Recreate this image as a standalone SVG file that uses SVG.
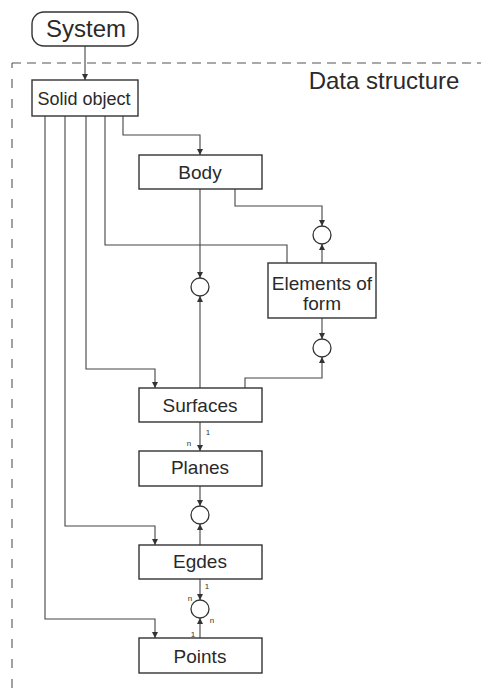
<svg xmlns="http://www.w3.org/2000/svg" width="481" height="688" viewBox="0 0 481 688">
<style>
.box{fill:#fff;stroke:#333;stroke-width:1.4}
.ln{fill:none;stroke:#444;stroke-width:1.1}
.c{fill:#fff;stroke:#333;stroke-width:1.3}
.d{fill:none;stroke:#555;stroke-width:1.1}
.t{font-family:"Liberation Sans",Arial,sans-serif;fill:#2a2a2a;text-anchor:middle}
.b{font-size:19px}
.s{font-family:"Liberation Sans",Arial,sans-serif;fill:#333;font-size:8px;text-anchor:middle}
</style>
<defs>
<marker id="a" markerUnits="userSpaceOnUse" markerWidth="6" markerHeight="6" refX="6" refY="3" orient="auto">
<path d="M0,0 L6,3 L0,6 z" fill="#333"/>
</marker>
</defs>
<path class="d" d="M12,63 H481" stroke-dasharray="9 6"/>
<path class="d" d="M12,688 V63" stroke-dasharray="9 11"/>
<text class="t" x="384" y="89" font-size="24">Data structure</text>
<g id="connectors">
<path class="ln" d="M85,46 V80" marker-end="url(#a)"/>
<path class="ln" d="M123,116 V135 H200 V155" marker-end="url(#a)"/>
<path class="ln" d="M105,116 V245 H287 V263"/>
<path class="ln" d="M86,116 V369 H155 V388" marker-end="url(#a)"/>
<path class="ln" d="M65,116 V526 H155 V545" marker-end="url(#a)"/>
<path class="ln" d="M45,116 V619 H155 V638" marker-end="url(#a)"/>
<path class="ln" d="M200,189 V278" marker-end="url(#a)"/>
<path class="ln" d="M200,388 V296" marker-end="url(#a)"/>
<path class="ln" d="M235,189 V206 H322 V226" marker-end="url(#a)"/>
<path class="ln" d="M322,263 V244" marker-end="url(#a)"/>
<path class="ln" d="M322,318 V339" marker-end="url(#a)"/>
<path class="ln" d="M245,388 V378 H322 V357" marker-end="url(#a)"/>
<path class="ln" d="M200,422 V451" marker-end="url(#a)"/>
<path class="ln" d="M200,486 V506" marker-end="url(#a)"/>
<path class="ln" d="M200,545 V524" marker-end="url(#a)"/>
<path class="ln" d="M200,579 V600" marker-end="url(#a)"/>
<path class="ln" d="M200,638 V618" marker-end="url(#a)"/>
<text class="s" x="208" y="435">1</text>
<text class="s" x="189" y="446">n</text>
<text class="s" x="207" y="589">1</text>
<text class="s" x="190" y="601">n</text>
<text class="s" x="212" y="623">n</text>
<text class="s" x="193" y="637">1</text>
</g>
<g id="system"><rect class="box" x="32" y="12" width="106" height="34" rx="12"/><text class="t" x="86" y="37" font-size="24">System</text></g>
<g id="solid"><rect class="box" x="32" y="80" width="106" height="36"/><text class="t" x="84" y="105" font-size="18">Solid object</text></g>
<g id="body"><rect class="box" x="139" y="155" width="123" height="34"/><text class="t b" x="200" y="179">Body</text></g>
<g id="c1"><circle class="c" cx="200" cy="287" r="9"/></g>
<g id="c2"><circle class="c" cx="322" cy="235" r="9"/></g>
<g id="elements"><rect class="box" x="268" y="263" width="108" height="55"/><text class="t b" x="322" y="290">Elements of</text><text class="t b" x="322" y="310">form</text></g>
<g id="c3"><circle class="c" cx="322" cy="348" r="9"/></g>
<g id="surfaces"><rect class="box" x="139" y="388" width="123" height="34"/><text class="t b" x="200" y="412">Surfaces</text></g>
<g id="planes"><rect class="box" x="139" y="451" width="123" height="35"/><text class="t b" x="200" y="474">Planes</text></g>
<g id="c4"><circle class="c" cx="200" cy="515" r="9"/></g>
<g id="egdes"><rect class="box" x="139" y="545" width="123" height="34"/><text class="t b" x="200" y="568">Egdes</text></g>
<g id="c5"><circle class="c" cx="200" cy="609" r="9"/></g>
<g id="points"><rect class="box" x="139" y="638" width="123" height="35"/><text class="t b" x="200" y="663">Points</text></g>
</svg>
